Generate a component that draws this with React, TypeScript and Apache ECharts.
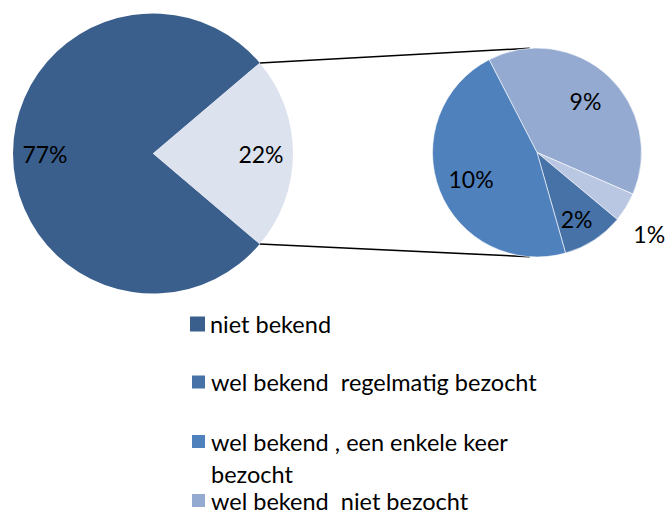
import React, { useEffect, useRef } from "react";
import * as echarts from "echarts";

// ---- data ----
const mainNames = ["niet bekend", "wel bekend"];
const mainValues = [77.6, 22.4];
const mainLabels = ["77%", "22%"];
const mainColors = ["#3B5F8D", "#DCE2EE"];

const subNames = [
  "wel bekend  niet bezocht",
  "wel bekend  overig",
  "wel bekend  regelmatig bezocht",
  "wel bekend , een enkele keer\nbezocht",
];
const subValues = [8.6, 1.0, 2.1, 10.3];
const subLabels = ["9%", "1%", "2%", "10%"];
const subColors = ["#94AAD1", "#BAC7E2", "#4672A8", "#4F81BD"];

const legendNames = [
  "niet bekend",
  "wel bekend  regelmatig bezocht",
  "wel bekend , een enkele keer\nbezocht",
  "wel bekend  niet bezocht",
];

// ---- layout ----
const FONT = "Lato, 'Open Sans', sans-serif";
const MAIN_C = [153, 153.5];
const MAIN_R = 140;
const SUB_C = [537, 152.5];
const SUB_R = 104.5;
const LEGEND_TOPS = [309, 367, 393.5, 485.5];

export default function App() {
  const ref = useRef<HTMLDivElement>(null);
  useEffect(() => {
    if (!ref.current) return;
    const chart = echarts.init(ref.current, undefined, { renderer: "svg" });

    const mainTotal = mainValues.reduce((a, b) => a + b, 0);
    const half = ((mainValues[1] / mainTotal) * 360) / 2;
    const mainStart = -half;
    const subStart = 117.3;

    const rad = (d: number) => (d * Math.PI) / 180;
    const mTop = [MAIN_C[0] + MAIN_R * Math.cos(rad(half)), MAIN_C[1] - MAIN_R * Math.sin(rad(half))];
    const mBot = [MAIN_C[0] + MAIN_R * Math.cos(rad(half)), MAIN_C[1] + MAIN_R * Math.sin(rad(half))];
    const sTop = [SUB_C[0] + SUB_R * Math.cos(rad(94)), SUB_C[1] - SUB_R * Math.sin(rad(94))];
    const sBot = [SUB_C[0] + SUB_R * Math.cos(rad(266)), SUB_C[1] - SUB_R * Math.sin(rad(266))];

    const labelStyle = { fontFamily: FONT, fontSize: 23, color: "#000" };
    const transparent = { color: "rgba(0,0,0,0)", borderWidth: 0 };

    const mainData = mainNames.map((n, i) => ({ name: n, value: mainValues[i], itemStyle: { color: mainColors[i] } }));
    const subData = subNames.map((n, i) => ({ name: n, value: subValues[i], itemStyle: { color: subColors[i] } }));

    const option: any = {
      animation: false,
      backgroundColor: "#fff",
      legend: legendNames.map((n, i) => ({
        data: [n],
        orient: "vertical",
        left: 190,
        top: LEGEND_TOPS[i],
        padding: 0,
        icon: "rect",
        itemWidth: 15,
        itemHeight: 15,
        selectedMode: false,
        formatter: i === 2 ? (s: string) => "\n" + s : (s: string) => s,
        textStyle: { fontFamily: FONT, fontSize: 23.5, color: "#000", lineHeight: i === 2 ? 32 : 30 },
      })),
      series: [
        {
          type: "pie",
          center: MAIN_C,
          radius: [0, MAIN_R],
          startAngle: mainStart,
          clockwise: true,
          silent: true,
          label: { show: false },
          labelLine: { show: false },
          itemStyle: { borderWidth: 0 },
          data: mainData,
        },
        {
          type: "pie",
          center: SUB_C,
          radius: [0, SUB_R],
          startAngle: subStart,
          clockwise: true,
          silent: true,
          label: { show: false },
          labelLine: { show: false },
          itemStyle: { borderColor: "#fff", borderWidth: 0.6 },
          data: subData,
        },
        {
          type: "pie",
          center: MAIN_C,
          radius: [MAIN_R * 0.5, MAIN_R],
          startAngle: mainStart,
          silent: true,
          itemStyle: transparent,
          labelLine: { show: false },
          label: { show: true, position: "inside", ...labelStyle, formatter: (p: any) => mainLabels[p.dataIndex] },
          data: mainNames.map((n, i) => ({ name: n, value: mainValues[i] })),
        },
        {
          type: "pie",
          center: SUB_C,
          radius: [SUB_R * 0.3, SUB_R],
          startAngle: subStart,
          silent: true,
          itemStyle: transparent,
          labelLine: { show: false },
          label: { show: true, position: "inside", ...labelStyle, formatter: (p: any) => subLabels[p.dataIndex] },
          data: subNames.map((n, i) => ({
            name: n,
            value: subValues[i],
            label: i === 1 ? { show: false } : i === 2 ? { offset: [1, 7] } : {},
          })),
        },
        {
          type: "pie",
          center: SUB_C,
          radius: [SUB_R, SUB_R * 1.6],
          startAngle: subStart,
          silent: true,
          itemStyle: transparent,
          labelLine: { show: false },
          label: { show: true, position: "inside", ...labelStyle, formatter: (p: any) => subLabels[p.dataIndex] },
          data: subNames.map((n, i) => ({
            name: n,
            value: subValues[i],
            label: i === 1 ? { show: true, offset: [-6, 9] } : { show: false },
          })),
        },
      ],
      graphic: [
        { type: "line", shape: { x1: mTop[0], y1: mTop[1], x2: sTop[0], y2: sTop[1] }, style: { stroke: "#000", lineWidth: 1.5 } },
        { type: "line", shape: { x1: mBot[0], y1: mBot[1], x2: sBot[0], y2: sBot[1] }, style: { stroke: "#000", lineWidth: 1.5 } },
      ],
    };
    chart.setOption(option);
    return () => chart.dispose();
  }, []);
  return <div ref={ref} style={{ position: "absolute", left: 0, top: 0, width: 665, height: 510 }} />;
}
